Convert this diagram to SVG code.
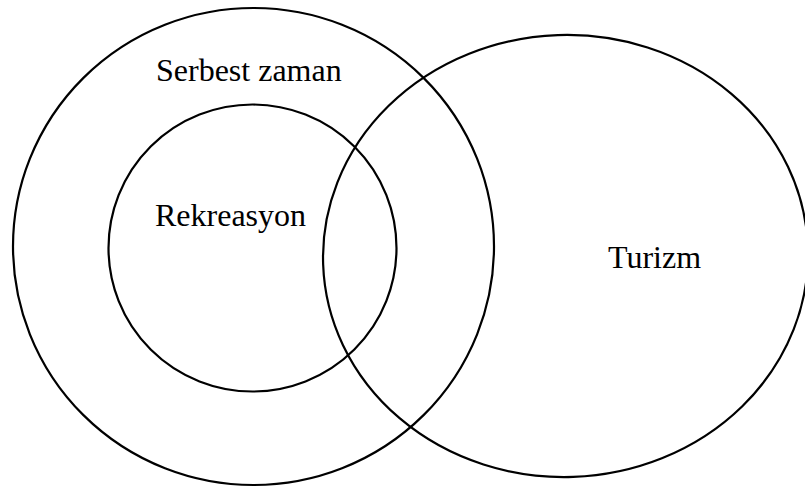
<svg xmlns="http://www.w3.org/2000/svg" width="805" height="488" viewBox="0 0 805 488">
<style>
.c{fill:none;stroke:#000;stroke-width:2.2}
.t{font-family:"Liberation Serif","Times New Roman",serif;font-size:32px;fill:#000}
</style>
<rect width="805" height="488" fill="#fff"/>
<g id="serbest-zaman">
<ellipse class="c" cx="253.5" cy="246.5" rx="240.5" ry="238.5"/>
<text class="t" x="156" y="81">Serbest zaman</text>
</g>
<g id="rekreasyon">
<ellipse class="c" cx="252.5" cy="248" rx="144" ry="143.5"/>
<text class="t" x="155" y="226">Rekreasyon</text>
</g>
<g id="turizm">
<ellipse class="c" cx="565.5" cy="256" rx="242.5" ry="221" transform="rotate(-2 565.5 256)"/>
<text class="t" x="608" y="268">Turizm</text>
</g>
<g id="connectors"/>
</svg>
